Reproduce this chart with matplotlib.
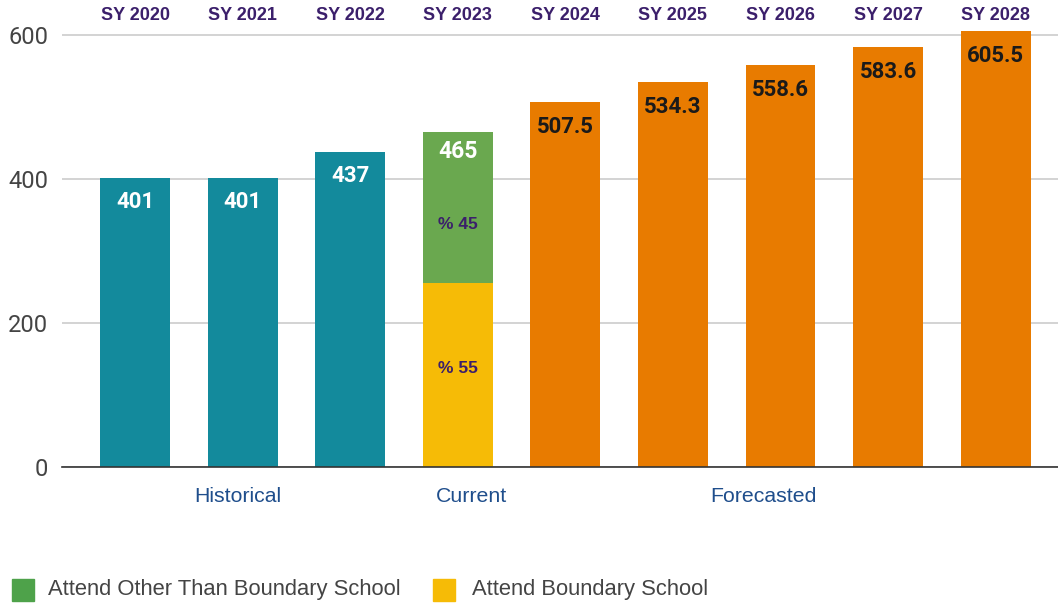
import matplotlib
matplotlib.use("Agg")
import matplotlib.pyplot as plt
import matplotlib.transforms as mtrans
from matplotlib.patches import Rectangle

years = ["SY 2020", "SY 2021", "SY 2022", "SY 2023", "SY 2024", "SY 2025", "SY 2026", "SY 2027", "SY 2028"]
historical = [401, 401, 437]
current_total = 465
current_pct_other = 45
current_pct_boundary = 55
forecast = [507.5, 534.3, 558.6, 583.6, 605.5]
groups = ["Historical", "Current", "Forecasted"]
legend_labels = ["Attend Other Than Boundary School", "Attend Boundary School"]
yticks = [0, 200, 400, 600]

TEAL = "#138a9c"
GREEN = "#6aa84f"
LEG_GREEN = "#4ea24a"
YELLOW = "#f6bb06"
ORANGE = "#e87b00"
PURPLE = "#3b1f6b"
BLUE = "#1f4e8c"

fig = plt.figure(figsize=(10.58, 6.03), dpi=100)
ax = fig.add_axes([62 / 1058, 0.2255, 1 - 62 / 1058, 0.7403])

w = 0.65
hx = list(range(len(historical)))
ax.bar(hx, historical, width=w, color=TEAL, zorder=2)
cx = len(historical)
boundary = current_total * current_pct_boundary / 100
other = current_total - boundary
ax.bar(cx, boundary, width=w, color=YELLOW, zorder=2)
ax.bar(cx, other, bottom=boundary, width=w, color=GREEN, zorder=2)
fx = list(range(cx + 1, cx + 1 + len(forecast)))
ax.bar(fx, forecast, width=w, color=ORANGE, zorder=2)

ax.set_xlim(-0.68, 8.58)
ax.set_ylim(0, 620)
ax.set_yticks(yticks)
ax.set_yticklabels([str(t) for t in yticks], fontfamily="Roboto", fontsize=17, color="#444444")
ax.tick_params(axis="y", length=0, pad=10)
ax.set_xticks([])
for s in ["top", "right", "left"]:
    ax.spines[s].set_visible(False)
ax.spines["bottom"].set_color("#333333")
ax.spines["bottom"].set_linewidth(1.2)
ax.grid(axis="y", color="#cccccc", linewidth=1.2, zorder=0)
ax.set_axisbelow(True)

# value labels
for x, v in zip(hx, historical):
    ax.annotate(f"{v:g}", (x, v), xytext=(0, -17), textcoords="offset points",
                ha="center", va="center", color="white", fontsize=16,
                fontweight="bold", fontfamily="Roboto", zorder=3)
ax.annotate(f"{current_total:g}", (cx, current_total), xytext=(0, -14), textcoords="offset points",
            ha="center", va="center", color="white", fontsize=16.5,
            fontweight="bold", fontfamily="Roboto", zorder=3)
for x, v in zip(fx, forecast):
    ax.annotate(f"{v:g}", (x, v), xytext=(0, -18), textcoords="offset points",
                ha="center", va="center", color="#1a1a1a", fontsize=16,
                fontweight="bold", fontfamily="Roboto", zorder=3)

ax.annotate(f"% {current_pct_other}", (cx, boundary + other / 2), xytext=(0, -12),
            textcoords="offset points", ha="center", va="center", color=PURPLE,
            fontsize=12.5, fontweight="bold", fontfamily="Liberation Sans", zorder=3)
ax.annotate(f"% {current_pct_boundary}", (cx, boundary / 2), xytext=(0, 5),
            textcoords="offset points", ha="center", va="center", color=PURPLE,
            fontsize=12.5, fontweight="bold", fontfamily="Liberation Sans", zorder=3)

# top year labels
top_tr = mtrans.blended_transform_factory(ax.transData, fig.transFigure)
for i, y in enumerate(years):
    ax.text(i, 1 - 15 / 603, y, transform=top_tr, ha="center", va="center",
            fontsize=13, fontweight="bold", color=PURPLE, fontfamily="Liberation Sans")

# group labels
group_centers = [(hx[0] + hx[-1]) / 2 - 0.05, cx + 0.13, (fx[0] + fx[-1]) / 2 - 0.16]
for gx, g in zip(group_centers, groups):
    ax.text(gx, 1 - 497 / 603, g, transform=top_tr, ha="center", va="center",
            fontsize=15.3, color=BLUE, fontfamily="Liberation Sans")

# legend
ly = 1 - 590 / 603
sq = 22
for (x0, tx, color, label) in [(12, 48, LEG_GREEN, legend_labels[0]),
                                (433, 472, YELLOW, legend_labels[1])]:
    fig.patches.append(Rectangle((x0 / 1058, ly - sq / 2 / 603), sq / 1058, sq / 603,
                                 transform=fig.transFigure, color=color))
    fig.text(tx / 1058, ly, label, ha="left", va="center", fontsize=15.8,
             color="#444444", fontfamily="Liberation Sans")

fig.savefig("out.png", dpi=100)
